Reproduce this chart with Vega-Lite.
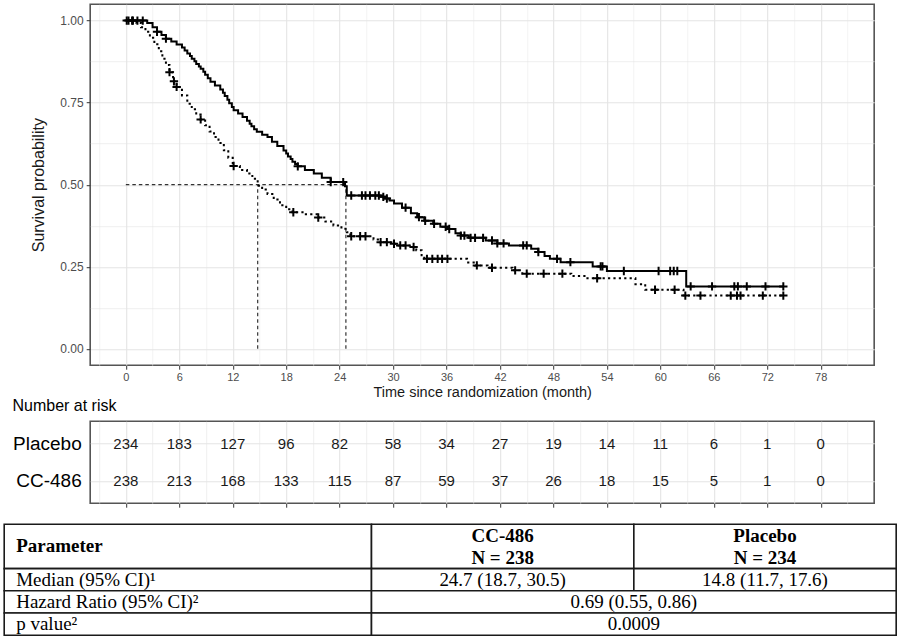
{
  "$schema": "https://vega.github.io/schema/vega-lite/v6.json",
  "background": "white",
  "padding": {"left": 3.2, "top": 3.2, "right": 3, "bottom": 3},
  "autosize": {"type": "pad"},
  "bounds": "flush",
  "spacing": 56,
  "config": {
    "font": "Liberation Sans",
    "view": {"stroke": "#555555", "strokeWidth": 1.6}
  },
  "datasets": {
    "curves": [
      {"arm": "CC-486", "time": 0, "surv": 1.0}, {"arm": "CC-486", "time": 2.4, "surv": 0.993}, {"arm": "CC-486", "time": 3.0, "surv": 0.98}, {"arm": "CC-486", "time": 3.5, "surv": 0.966}, {"arm": "CC-486", "time": 4.0, "surv": 0.956}, {"arm": "CC-486", "time": 4.5, "surv": 0.945}, {"arm": "CC-486", "time": 5.1, "surv": 0.936}, {"arm": "CC-486", "time": 5.7, "surv": 0.927}, {"arm": "CC-486", "time": 6.3, "surv": 0.918}, {"arm": "CC-486", "time": 6.6, "surv": 0.909}, {"arm": "CC-486", "time": 6.9, "surv": 0.9}, {"arm": "CC-486", "time": 7.2, "surv": 0.892}, {"arm": "CC-486", "time": 7.4, "surv": 0.884}, {"arm": "CC-486", "time": 7.7, "surv": 0.876}, {"arm": "CC-486", "time": 7.9, "surv": 0.868}, {"arm": "CC-486", "time": 8.2, "surv": 0.86}, {"arm": "CC-486", "time": 8.4, "surv": 0.853}, {"arm": "CC-486", "time": 8.7, "surv": 0.844}, {"arm": "CC-486", "time": 8.9, "surv": 0.835}, {"arm": "CC-486", "time": 9.2, "surv": 0.824}, {"arm": "CC-486", "time": 9.5, "surv": 0.814}, {"arm": "CC-486", "time": 10.0, "surv": 0.802}, {"arm": "CC-486", "time": 10.6, "surv": 0.79}, {"arm": "CC-486", "time": 10.9, "surv": 0.78}, {"arm": "CC-486", "time": 11.1, "surv": 0.77}, {"arm": "CC-486", "time": 11.4, "surv": 0.759}, {"arm": "CC-486", "time": 11.6, "surv": 0.748}, {"arm": "CC-486", "time": 11.9, "surv": 0.737}, {"arm": "CC-486", "time": 12.1, "surv": 0.727}, {"arm": "CC-486", "time": 12.6, "surv": 0.717}, {"arm": "CC-486", "time": 13.1, "surv": 0.706}, {"arm": "CC-486", "time": 13.6, "surv": 0.695}, {"arm": "CC-486", "time": 13.9, "surv": 0.686}, {"arm": "CC-486", "time": 14.1, "surv": 0.678}, {"arm": "CC-486", "time": 14.4, "surv": 0.669}, {"arm": "CC-486", "time": 14.7, "surv": 0.661}, {"arm": "CC-486", "time": 15.3, "surv": 0.652}, {"arm": "CC-486", "time": 15.9, "surv": 0.645}, {"arm": "CC-486", "time": 16.4, "surv": 0.631}, {"arm": "CC-486", "time": 17.0, "surv": 0.618}, {"arm": "CC-486", "time": 17.7, "surv": 0.604}, {"arm": "CC-486", "time": 18.0, "surv": 0.595}, {"arm": "CC-486", "time": 18.2, "surv": 0.586}, {"arm": "CC-486", "time": 18.5, "surv": 0.578}, {"arm": "CC-486", "time": 18.7, "surv": 0.57}, {"arm": "CC-486", "time": 19.0, "surv": 0.563}, {"arm": "CC-486", "time": 19.3, "surv": 0.556}, {"arm": "CC-486", "time": 20.1, "surv": 0.545}, {"arm": "CC-486", "time": 21.1, "surv": 0.534}, {"arm": "CC-486", "time": 22.0, "surv": 0.521}, {"arm": "CC-486", "time": 23.0, "surv": 0.508}, {"arm": "CC-486", "time": 24.6, "surv": 0.495}, {"arm": "CC-486", "time": 24.8, "surv": 0.467}, {"arm": "CC-486", "time": 28.6, "surv": 0.463}, {"arm": "CC-486", "time": 29.1, "surv": 0.458}, {"arm": "CC-486", "time": 29.6, "surv": 0.452}, {"arm": "CC-486", "time": 30.1, "surv": 0.443}, {"arm": "CC-486", "time": 31.0, "surv": 0.43}, {"arm": "CC-486", "time": 32.0, "surv": 0.413}, {"arm": "CC-486", "time": 32.7, "surv": 0.401}, {"arm": "CC-486", "time": 33.5, "surv": 0.39}, {"arm": "CC-486", "time": 34.5, "surv": 0.381}, {"arm": "CC-486", "time": 35.3, "surv": 0.372}, {"arm": "CC-486", "time": 36.1, "surv": 0.365}, {"arm": "CC-486", "time": 37.0, "surv": 0.352}, {"arm": "CC-486", "time": 37.6, "surv": 0.345}, {"arm": "CC-486", "time": 38.5, "surv": 0.338}, {"arm": "CC-486", "time": 40.4, "surv": 0.33}, {"arm": "CC-486", "time": 41.7, "surv": 0.321}, {"arm": "CC-486", "time": 43.0, "surv": 0.315}, {"arm": "CC-486", "time": 45.5, "surv": 0.305}, {"arm": "CC-486", "time": 46.3, "surv": 0.295}, {"arm": "CC-486", "time": 47.0, "surv": 0.283}, {"arm": "CC-486", "time": 47.6, "surv": 0.274}, {"arm": "CC-486", "time": 48.8, "surv": 0.264}, {"arm": "CC-486", "time": 52.4, "surv": 0.251}, {"arm": "CC-486", "time": 54.0, "surv": 0.237}, {"arm": "CC-486", "time": 62.9, "surv": 0.19}, {"arm": "CC-486", "time": 73.8, "surv": 0.19},
      {"arm": "Placebo", "time": 0, "surv": 1.0}, {"arm": "Placebo", "time": 1.2, "surv": 0.993}, {"arm": "Placebo", "time": 1.7, "surv": 0.98}, {"arm": "Placebo", "time": 2.2, "surv": 0.966}, {"arm": "Placebo", "time": 2.7, "surv": 0.948}, {"arm": "Placebo", "time": 3.2, "surv": 0.928}, {"arm": "Placebo", "time": 3.7, "surv": 0.907}, {"arm": "Placebo", "time": 4.1, "surv": 0.884}, {"arm": "Placebo", "time": 4.5, "surv": 0.865}, {"arm": "Placebo", "time": 4.9, "surv": 0.843}, {"arm": "Placebo", "time": 5.3, "surv": 0.815}, {"arm": "Placebo", "time": 5.7, "surv": 0.798}, {"arm": "Placebo", "time": 6.3, "surv": 0.772}, {"arm": "Placebo", "time": 6.9, "surv": 0.747}, {"arm": "Placebo", "time": 7.4, "surv": 0.73}, {"arm": "Placebo", "time": 7.9, "surv": 0.714}, {"arm": "Placebo", "time": 8.4, "surv": 0.699}, {"arm": "Placebo", "time": 8.9, "surv": 0.681}, {"arm": "Placebo", "time": 9.4, "surv": 0.662}, {"arm": "Placebo", "time": 9.9, "surv": 0.645}, {"arm": "Placebo", "time": 10.4, "surv": 0.627}, {"arm": "Placebo", "time": 11.0, "surv": 0.605}, {"arm": "Placebo", "time": 11.5, "surv": 0.582}, {"arm": "Placebo", "time": 12.0, "surv": 0.557}, {"arm": "Placebo", "time": 12.8, "surv": 0.545}, {"arm": "Placebo", "time": 13.6, "surv": 0.534}, {"arm": "Placebo", "time": 14.2, "surv": 0.518}, {"arm": "Placebo", "time": 14.8, "surv": 0.497}, {"arm": "Placebo", "time": 15.3, "surv": 0.485}, {"arm": "Placebo", "time": 15.9, "surv": 0.472}, {"arm": "Placebo", "time": 16.6, "surv": 0.455}, {"arm": "Placebo", "time": 17.3, "surv": 0.437}, {"arm": "Placebo", "time": 18.0, "surv": 0.425}, {"arm": "Placebo", "time": 18.7, "surv": 0.416}, {"arm": "Placebo", "time": 20.0, "surv": 0.41}, {"arm": "Placebo", "time": 21.6, "surv": 0.4}, {"arm": "Placebo", "time": 22.4, "surv": 0.388}, {"arm": "Placebo", "time": 23.3, "surv": 0.376}, {"arm": "Placebo", "time": 24.2, "surv": 0.366}, {"arm": "Placebo", "time": 24.8, "surv": 0.355}, {"arm": "Placebo", "time": 25.2, "surv": 0.343}, {"arm": "Placebo", "time": 27.8, "surv": 0.333}, {"arm": "Placebo", "time": 28.5, "surv": 0.325}, {"arm": "Placebo", "time": 29.8, "surv": 0.32}, {"arm": "Placebo", "time": 30.6, "surv": 0.315}, {"arm": "Placebo", "time": 32.0, "surv": 0.31}, {"arm": "Placebo", "time": 32.6, "surv": 0.3}, {"arm": "Placebo", "time": 33.2, "surv": 0.285}, {"arm": "Placebo", "time": 33.5, "surv": 0.274}, {"arm": "Placebo", "time": 38.3, "surv": 0.263}, {"arm": "Placebo", "time": 39.2, "surv": 0.254}, {"arm": "Placebo", "time": 40.6, "surv": 0.247}, {"arm": "Placebo", "time": 43.4, "surv": 0.239}, {"arm": "Placebo", "time": 44.5, "surv": 0.229}, {"arm": "Placebo", "time": 50.0, "surv": 0.222}, {"arm": "Placebo", "time": 51.6, "surv": 0.215}, {"arm": "Placebo", "time": 57.2, "surv": 0.197}, {"arm": "Placebo", "time": 58.3, "surv": 0.18}, {"arm": "Placebo", "time": 62.6, "surv": 0.162}, {"arm": "Placebo", "time": 73.8, "surv": 0.162}
    ],
    "censor": [
      {"arm": "CC-486", "time": 0.1, "surv": 1.0}, {"arm": "CC-486", "time": 0.7, "surv": 1.0}, {"arm": "CC-486", "time": 1.3, "surv": 1.0}, {"arm": "CC-486", "time": 1.9, "surv": 1.0}, {"arm": "CC-486", "time": 3.5, "surv": 0.966}, {"arm": "CC-486", "time": 4.5, "surv": 0.945}, {"arm": "CC-486", "time": 19.3, "surv": 0.556}, {"arm": "CC-486", "time": 23.0, "surv": 0.508}, {"arm": "CC-486", "time": 24.4, "surv": 0.508}, {"arm": "CC-486", "time": 25.3, "surv": 0.467}, {"arm": "CC-486", "time": 26.5, "surv": 0.467}, {"arm": "CC-486", "time": 26.9, "surv": 0.467}, {"arm": "CC-486", "time": 27.4, "surv": 0.467}, {"arm": "CC-486", "time": 28.0, "surv": 0.467}, {"arm": "CC-486", "time": 28.4, "surv": 0.467}, {"arm": "CC-486", "time": 28.9, "surv": 0.463}, {"arm": "CC-486", "time": 29.3, "surv": 0.458}, {"arm": "CC-486", "time": 31.4, "surv": 0.43}, {"arm": "CC-486", "time": 32.9, "surv": 0.401}, {"arm": "CC-486", "time": 33.6, "surv": 0.39}, {"arm": "CC-486", "time": 34.6, "surv": 0.381}, {"arm": "CC-486", "time": 35.9, "surv": 0.372}, {"arm": "CC-486", "time": 36.3, "surv": 0.365}, {"arm": "CC-486", "time": 37.6, "surv": 0.345}, {"arm": "CC-486", "time": 38.0, "surv": 0.345}, {"arm": "CC-486", "time": 38.7, "surv": 0.338}, {"arm": "CC-486", "time": 39.2, "surv": 0.338}, {"arm": "CC-486", "time": 40.1, "surv": 0.338}, {"arm": "CC-486", "time": 41.1, "surv": 0.33}, {"arm": "CC-486", "time": 41.7, "surv": 0.321}, {"arm": "CC-486", "time": 42.4, "surv": 0.321}, {"arm": "CC-486", "time": 44.6, "surv": 0.315}, {"arm": "CC-486", "time": 45.0, "surv": 0.315}, {"arm": "CC-486", "time": 46.3, "surv": 0.295}, {"arm": "CC-486", "time": 48.4, "surv": 0.274}, {"arm": "CC-486", "time": 49.9, "surv": 0.264}, {"arm": "CC-486", "time": 53.3, "surv": 0.251}, {"arm": "CC-486", "time": 53.5, "surv": 0.251}, {"arm": "CC-486", "time": 55.9, "surv": 0.237}, {"arm": "CC-486", "time": 59.8, "surv": 0.237}, {"arm": "CC-486", "time": 61.1, "surv": 0.237}, {"arm": "CC-486", "time": 61.5, "surv": 0.237}, {"arm": "CC-486", "time": 61.9, "surv": 0.237}, {"arm": "CC-486", "time": 63.4, "surv": 0.19}, {"arm": "CC-486", "time": 65.8, "surv": 0.19}, {"arm": "CC-486", "time": 68.3, "surv": 0.19}, {"arm": "CC-486", "time": 68.7, "surv": 0.19}, {"arm": "CC-486", "time": 69.7, "surv": 0.19}, {"arm": "CC-486", "time": 71.8, "surv": 0.19}, {"arm": "CC-486", "time": 73.8, "surv": 0.19},
      {"arm": "Placebo", "time": 0.3, "surv": 1.0}, {"arm": "Placebo", "time": 0.8, "surv": 1.0}, {"arm": "Placebo", "time": 4.9, "surv": 0.843}, {"arm": "Placebo", "time": 5.4, "surv": 0.815}, {"arm": "Placebo", "time": 5.7, "surv": 0.798}, {"arm": "Placebo", "time": 8.4, "surv": 0.699}, {"arm": "Placebo", "time": 12.1, "surv": 0.557}, {"arm": "Placebo", "time": 18.8, "surv": 0.416}, {"arm": "Placebo", "time": 21.6, "surv": 0.4}, {"arm": "Placebo", "time": 25.3, "surv": 0.343}, {"arm": "Placebo", "time": 26.3, "surv": 0.343}, {"arm": "Placebo", "time": 26.9, "surv": 0.343}, {"arm": "Placebo", "time": 28.6, "surv": 0.325}, {"arm": "Placebo", "time": 29.3, "surv": 0.325}, {"arm": "Placebo", "time": 30.1, "surv": 0.32}, {"arm": "Placebo", "time": 30.8, "surv": 0.315}, {"arm": "Placebo", "time": 31.4, "surv": 0.315}, {"arm": "Placebo", "time": 32.3, "surv": 0.31}, {"arm": "Placebo", "time": 33.8, "surv": 0.274}, {"arm": "Placebo", "time": 34.4, "surv": 0.274}, {"arm": "Placebo", "time": 35.0, "surv": 0.274}, {"arm": "Placebo", "time": 35.5, "surv": 0.274}, {"arm": "Placebo", "time": 36.1, "surv": 0.274}, {"arm": "Placebo", "time": 39.4, "surv": 0.254}, {"arm": "Placebo", "time": 41.1, "surv": 0.247}, {"arm": "Placebo", "time": 43.7, "surv": 0.239}, {"arm": "Placebo", "time": 45.0, "surv": 0.229}, {"arm": "Placebo", "time": 46.9, "surv": 0.229}, {"arm": "Placebo", "time": 49.0, "surv": 0.229}, {"arm": "Placebo", "time": 52.9, "surv": 0.215}, {"arm": "Placebo", "time": 59.4, "surv": 0.18}, {"arm": "Placebo", "time": 61.6, "surv": 0.18}, {"arm": "Placebo", "time": 62.8, "surv": 0.162}, {"arm": "Placebo", "time": 64.5, "surv": 0.162}, {"arm": "Placebo", "time": 67.9, "surv": 0.162}, {"arm": "Placebo", "time": 68.6, "surv": 0.162}, {"arm": "Placebo", "time": 69.0, "surv": 0.162}, {"arm": "Placebo", "time": 71.5, "surv": 0.162}, {"arm": "Placebo", "time": 73.8, "surv": 0.162}
    ],
    "medians": [
      {"t0": 0, "t1": 24.7, "s0": 0.5, "s1": 0.5},
      {"t0": 14.8, "t1": 14.8, "s0": 0, "s1": 0.5},
      {"t0": 24.7, "t1": 24.7, "s0": 0, "s1": 0.5}
    ],
    "risk": [
      {"arm": "Placebo", "time": 0, "n": 234}, {"arm": "Placebo", "time": 6, "n": 183}, {"arm": "Placebo", "time": 12, "n": 127}, {"arm": "Placebo", "time": 18, "n": 96}, {"arm": "Placebo", "time": 24, "n": 82}, {"arm": "Placebo", "time": 30, "n": 58}, {"arm": "Placebo", "time": 36, "n": 34}, {"arm": "Placebo", "time": 42, "n": 27}, {"arm": "Placebo", "time": 48, "n": 19}, {"arm": "Placebo", "time": 54, "n": 14}, {"arm": "Placebo", "time": 60, "n": 11}, {"arm": "Placebo", "time": 66, "n": 6}, {"arm": "Placebo", "time": 72, "n": 1}, {"arm": "Placebo", "time": 78, "n": 0},
      {"arm": "CC-486", "time": 0, "n": 238}, {"arm": "CC-486", "time": 6, "n": 213}, {"arm": "CC-486", "time": 12, "n": 168}, {"arm": "CC-486", "time": 18, "n": 133}, {"arm": "CC-486", "time": 24, "n": 115}, {"arm": "CC-486", "time": 30, "n": 87}, {"arm": "CC-486", "time": 36, "n": 59}, {"arm": "CC-486", "time": 42, "n": 37}, {"arm": "CC-486", "time": 48, "n": 26}, {"arm": "CC-486", "time": 54, "n": 18}, {"arm": "CC-486", "time": 60, "n": 15}, {"arm": "CC-486", "time": 66, "n": 5}, {"arm": "CC-486", "time": 72, "n": 1}, {"arm": "CC-486", "time": 78, "n": 0}
    ],
    "cells": [
      {"c0": 0, "c1": 1.4, "r0": 0, "r1": 2}, {"c0": 1.4, "c1": 2.4, "r0": 0, "r1": 2}, {"c0": 2.4, "c1": 3.4, "r0": 0, "r1": 2},
      {"c0": 0, "c1": 1.4, "r0": 2, "r1": 3}, {"c0": 1.4, "c1": 2.4, "r0": 2, "r1": 3}, {"c0": 2.4, "c1": 3.4, "r0": 2, "r1": 3},
      {"c0": 0, "c1": 1.4, "r0": 3, "r1": 4}, {"c0": 1.4, "c1": 3.4, "r0": 3, "r1": 4},
      {"c0": 0, "c1": 1.4, "r0": 4, "r1": 5}, {"c0": 1.4, "c1": 3.4, "r0": 4, "r1": 5}
    ],
    "tabletext": [
      {"label": "Parameter", "col": 0, "row": 1.0, "kind": "leftbold"},
      {"label": "Median (95% CI)¹", "col": 0, "row": 2.5, "kind": "left"},
      {"label": "Hazard Ratio (95% CI)²", "col": 0, "row": 3.5, "kind": "left"},
      {"label": "p value²", "col": 0, "row": 4.5, "kind": "left"},
      {"label": "CC-486", "col": 1.9, "row": 0.52, "kind": "centerbold"},
      {"label": "N = 238", "col": 1.9, "row": 1.52, "kind": "centerbold"},
      {"label": "Placebo", "col": 2.9, "row": 0.52, "kind": "centerbold"},
      {"label": "N = 234", "col": 2.9, "row": 1.52, "kind": "centerbold"},
      {"label": "24.7 (18.7, 30.5)", "col": 1.9, "row": 2.5, "kind": "center"},
      {"label": "14.8 (11.7, 17.6)", "col": 2.9, "row": 2.5, "kind": "center"},
      {"label": "0.69 (0.55, 0.86)", "col": 2.4, "row": 3.5, "kind": "center"},
      {"label": "0.0009", "col": 2.4, "row": 4.5, "kind": "center"}
    ]
  },
  "vconcat": [
    {
      "width": 784,
      "height": 361,
      "resolve": {"axis": {"x": "independent"}},
      "layer": [
        {
          "data": {"name": "medians"},
          "mark": {"type": "rule", "color": "#333333", "strokeWidth": 1.2, "strokeDash": [3.5, 3]},
          "encoding": {
            "x": {
              "field": "t0", "type": "quantitative",
              "scale": {"domain": [-4, 84], "nice": false, "zero": false},
              "axis": {
                "orient": "bottom",
                "values": [0, 6, 12, 18, 24, 30, 36, 42, 48, 54, 60, 66, 72, 78],
                "format": "d",
                "labelOverlap": false,
                "title": "Time since randomization (month)",
                "grid": true,
                "gridColor": "#e4e4e4",
                "gridWidth": 1.1,
                "ticks": true,
                "tickColor": "#333333",
                "tickSize": 4,
                "domain": false,
                "labelColor": "#4d4d4d",
                "labelFontSize": 11,
                "labelPadding": 2,
                "titleFontSize": 14.5,
                "titleFontWeight": "normal",
                "titleColor": "#1a1a1a",
                "titlePadding": 3
              }
            },
            "x2": {"field": "t1"},
            "y": {
              "field": "s0", "type": "quantitative",
              "scale": {"domain": [-0.05, 1.05], "nice": false, "zero": false},
              "axis": {
                "values": [0, 0.125, 0.25, 0.375, 0.5, 0.625, 0.75, 0.875, 1],
                "format": ".2f",
                "labelExpr": "(datum.value * 8) % 2 === 0 ? datum.label : ''",
                "labelOverlap": false,
                "title": "Survival probability",
                "grid": true,
                "gridColor": "#e4e4e4",
                "gridWidth": {"condition": {"test": "(datum.value * 8) % 2 === 0", "value": 1.1}, "value": 0.6},
                "tickOpacity": {"condition": {"test": "(datum.value * 8) % 2 === 0", "value": 1}, "value": 0},
                "tickColor": "#333333",
                "tickSize": 4,
                "domain": false,
                "labelColor": "#4d4d4d",
                "labelFontSize": 12,
                "labelPadding": 3,
                "titleFontSize": 16,
                "titleFontWeight": "normal",
                "titleColor": "#1a1a1a",
                "titlePadding": 13
              }
            },
            "y2": {"field": "s1"}
          }
        },
        {
          "data": {"name": "curves"},
          "mark": {"type": "line", "interpolate": "step-after", "color": "black", "strokeWidth": 2},
          "encoding": {
            "x": {
              "field": "time", "type": "quantitative",
              "axis": {
                "orient": "top",
                "values": [-3, 3, 9, 15, 21, 27, 33, 39, 45, 51, 57, 63, 69, 75, 81],
                "labels": false,
                "ticks": false,
                "domain": false,
                "title": null,
                "grid": true,
                "gridColor": "#ececec",
                "gridWidth": 0.6
              }
            },
            "y": {"field": "surv", "type": "quantitative"},
            "strokeDash": {"field": "arm", "type": "nominal", "scale": {"domain": ["CC-486", "Placebo"], "range": [[1, 0], [2.2, 3.2]]}, "legend": null}
          }
        },
        {
          "data": {"name": "censor"},
          "mark": {"type": "point", "shape": "M-1,0L1,0M0,-1L0,1", "filled": false, "color": "black", "strokeWidth": 2, "size": 70, "opacity": 1},
          "encoding": {
            "x": {"field": "time", "type": "quantitative", "axis": null},
            "y": {"field": "surv", "type": "quantitative"},
            "detail": {"field": "arm", "type": "nominal"}
          }
        }
      ]
    },
    {
      "width": 784,
      "height": 82,
      "title": {"text": "Number at risk", "anchor": "start", "fontSize": 16, "fontWeight": "normal", "color": "black", "offset": 7, "font": "Liberation Sans"},
      "data": {"name": "risk"},
      "mark": {"type": "text", "fontSize": 15, "color": "#1a1a1a", "baseline": "middle"},
      "encoding": {
        "x": {
          "field": "time", "type": "quantitative",
          "scale": {"domain": [-4, 84], "nice": false, "zero": false},
          "axis": {
            "values": [-3, 0, 3, 6, 9, 12, 15, 18, 21, 24, 27, 30, 33, 36, 39, 42, 45, 48, 51, 54, 57, 60, 63, 66, 69, 72, 75, 78, 81],
            "labels": false,
            "title": null,
            "grid": true,
            "gridColor": "#e4e4e4",
            "gridWidth": {"condition": {"test": "datum.value % 6 === 0", "value": 1.1}, "value": 0.6},
            "tickOpacity": {"condition": {"test": "datum.value % 6 === 0", "value": 1}, "value": 0},
            "tickColor": "#333333",
            "tickSize": 4,
            "domain": false
          }
        },
        "y": {
          "field": "arm", "type": "nominal",
          "sort": ["Placebo", "CC-486"],
          "scale": {"type": "point", "padding": 0.6},
          "axis": {"title": null, "ticks": false, "domain": false, "labelFontSize": 19, "labelColor": "black", "labelPadding": 9, "grid": true, "gridColor": "#e4e4e4", "gridWidth": 1.1}
        },
        "text": {"field": "n", "type": "quantitative"}
      }
    },
    {
      "width": 784,
      "height": 76,
      "view": {"stroke": null},
      "layer": [
        {
          "data": {"name": "cells"},
          "mark": {"type": "rect", "fill": "white", "stroke": "#1a1a1a", "strokeWidth": 1.6},
          "encoding": {
            "x": {"field": "c0", "type": "quantitative", "scale": {"domain": [0, 3.4], "range": [-86, 806], "nice": false, "zero": false}, "axis": null},
            "x2": {"field": "c1"},
            "y": {"field": "r0", "type": "quantitative", "scale": {"domain": [0, 5], "range": [-35, 76], "nice": false, "zero": false}, "axis": null},
            "y2": {"field": "r1"}
          }
        },
        {
          "data": {"name": "tabletext"},
          "transform": [{"filter": "datum.kind === 'leftbold'"}],
          "mark": {"type": "text", "align": "left", "baseline": "middle", "dx": 12, "font": "Liberation Serif", "fontSize": 19, "fontWeight": "bold", "color": "black"},
          "encoding": {
            "x": {"field": "col", "type": "quantitative"},
            "y": {"field": "row", "type": "quantitative"},
            "text": {"field": "label"}
          }
        },
        {
          "data": {"name": "tabletext"},
          "transform": [{"filter": "datum.kind === 'left'"}],
          "mark": {"type": "text", "align": "left", "baseline": "middle", "dx": 12, "font": "Liberation Serif", "fontSize": 19, "color": "black"},
          "encoding": {
            "x": {"field": "col", "type": "quantitative"},
            "y": {"field": "row", "type": "quantitative"},
            "text": {"field": "label"}
          }
        },
        {
          "data": {"name": "tabletext"},
          "transform": [{"filter": "datum.kind === 'centerbold'"}],
          "mark": {"type": "text", "align": "center", "baseline": "middle", "font": "Liberation Serif", "fontSize": 19, "fontWeight": "bold", "color": "black"},
          "encoding": {
            "x": {"field": "col", "type": "quantitative"},
            "y": {"field": "row", "type": "quantitative"},
            "text": {"field": "label"}
          }
        },
        {
          "data": {"name": "tabletext"},
          "transform": [{"filter": "datum.kind === 'center'"}],
          "mark": {"type": "text", "align": "center", "baseline": "middle", "font": "Liberation Serif", "fontSize": 19, "color": "black"},
          "encoding": {
            "x": {"field": "col", "type": "quantitative"},
            "y": {"field": "row", "type": "quantitative"},
            "text": {"field": "label"}
          }
        }
      ]
    }
  ]
}
